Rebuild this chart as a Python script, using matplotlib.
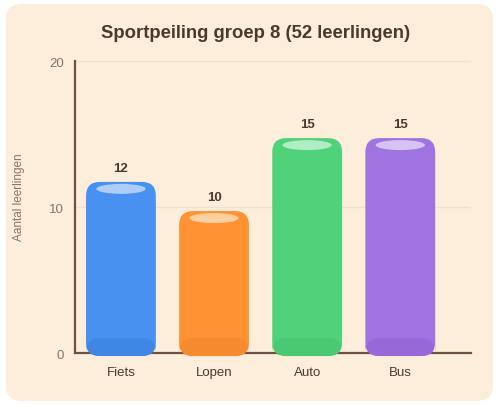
import matplotlib
matplotlib.use("Agg")
import matplotlib.pyplot as plt
from matplotlib.patches import FancyBboxPatch, Ellipse

plt.rcParams['font.family'] = ['Liberation Sans', 'DejaVu Sans']

# data
categories = ["Fiets", "Lopen", "Auto", "Bus"]
counts = [12, 10, 15, 15]
colors = ["#4991f0", "#ff9333", "#50d27a", "#a074e0"]
top_colors = ["#aecdfa", "#ffcfa0", "#b0ecc4", "#d6c2f3"]
bottom_colors = ["#3f87e3", "#f58a2e", "#4ac872", "#9768d8"]
title = "Sportpeiling groep 8 (52 leerlingen)"

fig = plt.figure(figsize=(4.99, 4.06), dpi=100)
fig.patch.set_facecolor("white")

# card behind everything
card = FancyBboxPatch((0.012, 0.01), 0.976, 0.978, boxstyle="round,pad=0,rounding_size=0.035",
                      transform=fig.transFigure, facecolor="#fdeedb", edgecolor="none", zorder=-10)
fig.patches.append(card)

ax = fig.add_axes([0.150, 0.128, 0.794, 0.719])
ax.set_zorder(1)
ax.set_facecolor("none")
ax.set_xlim(-0.495, 3.76)
ax.set_ylim(0, 20)

# rough pixel -> data scale, used for the rounded corners
px_x = 1 / 93.0
px_y = 20 / 292.0
aspect = px_y / px_x

bw = 0.75
for i, (v, c, tc, bc) in enumerate(zip(counts, colors, top_colors, bottom_colors)):
    x0 = i - bw / 2
    y0 = -3 * px_y
    y1 = v - 4 * px_y
    bar = FancyBboxPatch((x0, y0), bw, y1 - y0,
                         boxstyle="round,pad=0,rounding_size=%f" % (14 * px_x),
                         mutation_aspect=aspect, facecolor=c, edgecolor="none",
                         zorder=3, clip_on=False)
    ax.add_patch(bar)
    # darker bottom
    bot = FancyBboxPatch((x0, y0), bw, 18 * px_y,
                         boxstyle="round,pad=0,rounding_size=%f" % (14 * px_x),
                         mutation_aspect=aspect, facecolor=bc, edgecolor="none",
                         zorder=3.5, clip_on=False)
    ax.add_patch(bot)
    # highlight on top
    ax.add_patch(Ellipse((i, y1 - 7 * px_y), 0.53, 10 * px_y, facecolor=tc,
                         edgecolor="none", zorder=4))
    ax.text(i, v + 0.3, str(v), ha="center", va="bottom", fontsize=9.5,
            fontweight="bold", color="#4a3a2e", zorder=5)

ax.set_xticks(range(len(categories)))
ax.set_xticklabels(categories, fontsize=9.5, color="#4a3a2e")
ax.set_yticks([0, 10, 20])
ax.tick_params(axis="y", labelsize=9.5, labelcolor="#8a7262", length=0, pad=8)
ax.tick_params(axis="x", length=0, pad=9)
ax.grid(axis="y", color="#f0dfcc", linewidth=1, zorder=1)
ax.set_axisbelow(True)
for s in ["top", "right"]:
    ax.spines[s].set_visible(False)
for s in ["left", "bottom"]:
    ax.spines[s].set_color("#6e5040")
    ax.spines[s].set_linewidth(1.6)
    ax.spines[s].set_zorder(2)

ax.set_ylabel("Aantal leerlingen", fontsize=8.5, color="#8a7262")
ax.yaxis.set_label_coords(-0.125, 0.538)
fig.text(0.512, 0.918, title, ha="center", va="center", fontsize=13.3,
         fontweight="bold", color="#4a3a2e")

fig.savefig("out.png", dpi=100, facecolor=fig.get_facecolor())
